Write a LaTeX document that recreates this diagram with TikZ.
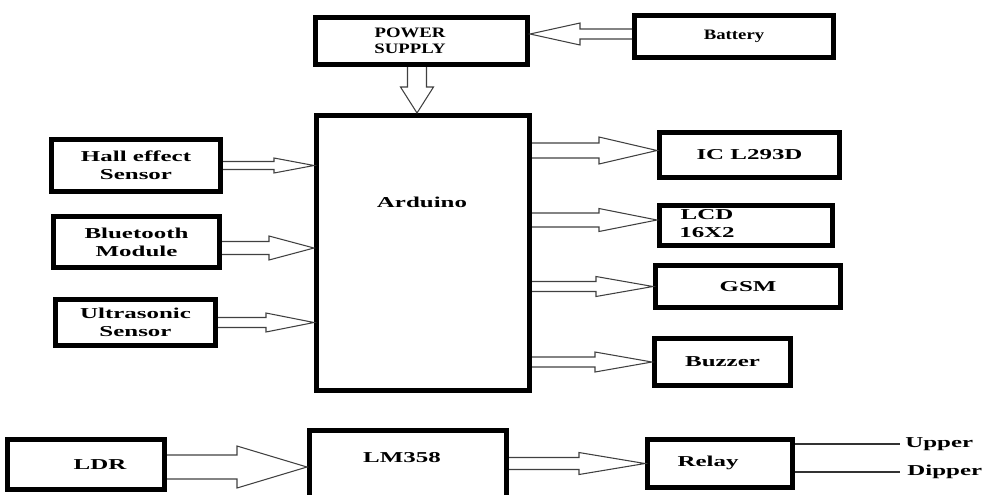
\documentclass[tikz,border=0pt]{standalone}
\usepackage{fontspec}
\setmainfont{Liberation Serif}[FakeStretch=1.65]
\newfontfamily\slimfont{Liberation Serif}[FakeStretch=1.3]
\usetikzlibrary{calc}

\tikzset{
	blk/.style={draw, line width=1mm, inner sep=0pt, align=center,
		font=\fontsize{8.6}{10.2}\selectfont\bfseries},
	txt/.style={inner sep=0pt, align=center, font=\fontsize{8.6}{10.2}\selectfont\bfseries},
	fatarrow/.style={draw=black!75, line width=0.6pt, line join=miter},
	wire/.style={draw=black!80, line width=0.8pt},
}

% hollow block arrow: tail, tip, shaft half width, head half width, head length (px)
\newcommand{\hollowarrow}[5]{%
	\coordinate (hb) at ($(#2)!#5*0.2mm!(#1)$);
	\draw[fatarrow] ($(#1)!#3*0.2mm!90:(#2)$) -- ($(hb)!#3*0.2mm!90:(#2)$)
		-- ($(hb)!#4*0.2mm!90:(#2)$) -- (#2) -- ($(hb)!#4*0.2mm!-90:(#2)$)
		-- ($(hb)!#3*0.2mm!-90:(#2)$) -- ($(#1)!#3*0.2mm!-90:(#2)$);
}

\begin{document}
\begin{tikzpicture}[x=0.2mm, y=-0.2mm]
	\path[use as bounding box, clip] (0,0) rectangle (986,494);

	% Blocks:
	\node[blk, minimum width=42.4mm, minimum height=9.4mm] (pwr) at (421.5,41) {};
	\node[txt, font=\fontsize{8.2}{9}\selectfont\bfseries\slimfont] (pwrtxt) at (410,41) {POWER\\SUPPLY};
	\node[blk, minimum width=39.8mm, minimum height=8.4mm, font=\fontsize{8.2}{9}\selectfont\bfseries\slimfont] (bat) at (734,36.5) {Battery};
	\node[blk, minimum width=42.6mm, minimum height=55mm] (ard) at (423,253) {};
	\node[txt] (ardtxt) at (422,202) {Arduino};

	\node[blk, minimum width=33.8mm, minimum height=10.4mm] (hall) at (136,165.5) {Hall effect\\Sensor};
	\node[blk, minimum width=33.2mm, minimum height=10.2mm] (bt) at (136.5,242) {Bluetooth\\Module};
	\node[blk, minimum width=32mm, minimum height=9.2mm] (us) at (135.5,322.5) {Ultrasonic\\Sensor};

	\node[blk, minimum width=36mm, minimum height=9mm] (ic) at (749.5,155) {IC L293D};
	\node[blk, minimum width=34.6mm, minimum height=8mm] (lcd) at (746,225) {};
	\node[txt] (lcdtxt) at (707,224) {LCD\\16X2};
	\node[blk, minimum width=37mm, minimum height=8.4mm] (gsm) at (748,286.5) {GSM};
	\node[blk, minimum width=27.2mm, minimum height=9.4mm] (buz) at (722.5,362) {Buzzer};

	\node[blk, minimum width=31.4mm, minimum height=10mm] (ldr) at (86,464.5) {};
	\node[txt] (ldrtxt) at (100,465) {LDR};
	\node[blk, minimum width=39.4mm, minimum height=16.6mm] (lm) at (408,472) {};
	\node[txt] (lmtxt) at (402,458) {LM358};
	\node[blk, minimum width=29mm, minimum height=9.6mm] (rly) at (720,463.5) {};
	\node[txt] (rlytxt) at (708,463) {Relay};
	\node[txt, anchor=west] (upper) at (905,444) {Upper};
	\node[txt, anchor=west] (dipper) at (907,472) {Dipper};

	% Block arrows:
	\coordinate (b0) at ($(bat.west)+(0,-2.5)$);
	\coordinate (b1) at (b0 -| pwr.east);
	\hollowarrow{b0}{b1}{5}{11}{50}
	\coordinate (p0) at ($(pwr.south)+(-4.5,0)$);
	\coordinate (p1) at (p0 |- ard.north);
	\hollowarrow{p0}{p1}{9.5}{16.5}{26}

	\coordinate (h1) at (hall.east -| ard.west);
	\hollowarrow{hall.east}{h1}{4}{7.5}{40}
	\coordinate (bt0) at ($(bt.east)+(0,6)$);
	\coordinate (bt1) at (bt0 -| ard.west);
	\hollowarrow{bt0}{bt1}{6.5}{12}{45}
	\coordinate (u1) at (us.east -| ard.west);
	\hollowarrow{us.east}{u1}{5}{9.5}{48}

	\coordinate (i1) at ($(ic.west)+(0,-4.5)$);
	\coordinate (i0) at (i1 -| ard.east);
	\hollowarrow{i0}{i1}{7.5}{13.5}{58}
	\coordinate (l1) at ($(lcd.west)+(0,-5)$);
	\coordinate (l0) at (l1 -| ard.east);
	\hollowarrow{l0}{l1}{7}{11.5}{58}
	\coordinate (g0) at (gsm.west -| ard.east);
	\hollowarrow{g0}{gsm.west}{5}{10}{57}
	\coordinate (z0) at (buz.west -| ard.east);
	\hollowarrow{z0}{buz.west}{5}{10}{57}

	\coordinate (d0) at ($(ldr.east)+(0,2.5)$);
	\coordinate (d1) at (d0 -| lm.west);
	\hollowarrow{d0}{d1}{12}{21}{70}
	\coordinate (m0) at (rly.west -| lm.east);
	\hollowarrow{m0}{rly.west}{6}{11}{66}

	% Relay outputs:
	\draw[wire] (rly.east |- upper.west) -- ([xshift=-1mm]upper.west);
	\draw[wire] (rly.east |- dipper.west) -- ([xshift=-1.4mm]dipper.west);
\end{tikzpicture}
\end{document}
